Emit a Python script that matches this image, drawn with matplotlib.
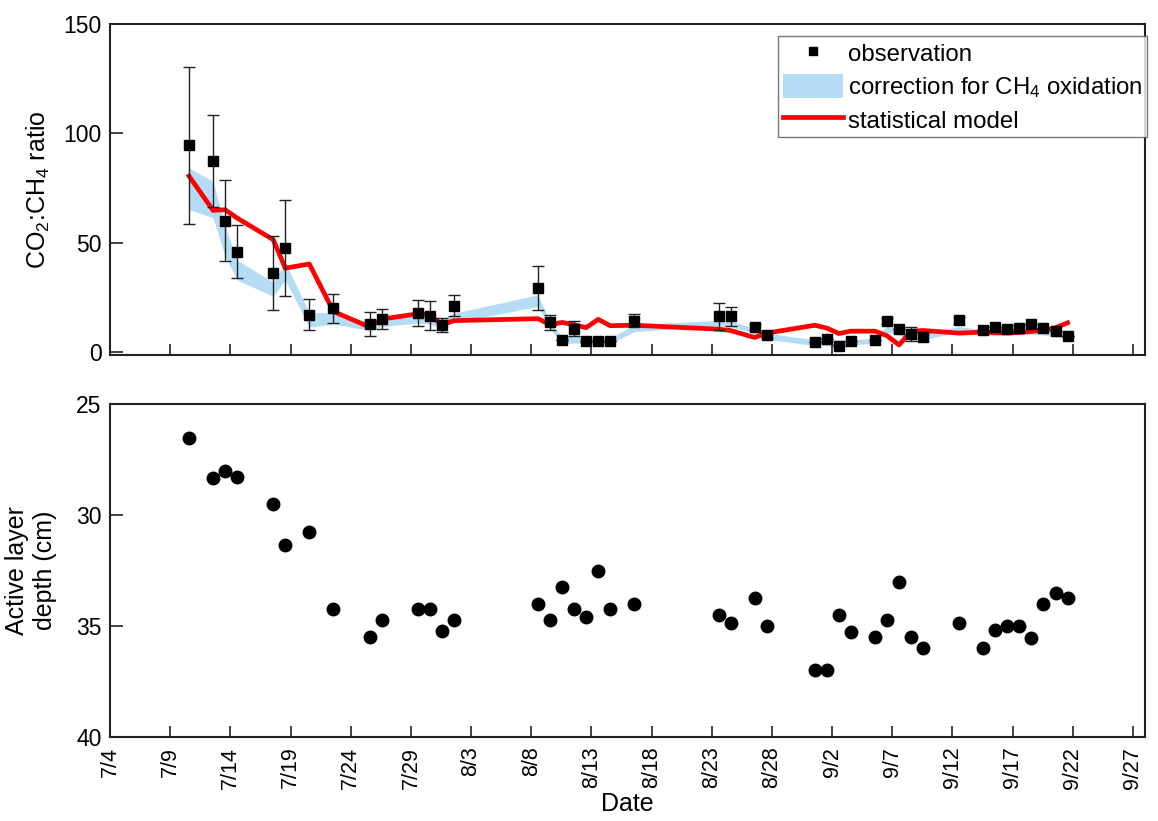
import numpy as np
import pandas as pd
import matplotlib
matplotlib.use('Agg')
import matplotlib.pyplot as plt
from matplotlib.patches import Patch
from matplotlib.lines import Line2D

plt.rcParams['font.family'] = ['Liberation Sans', 'DejaVu Sans']
plt.rcParams['mathtext.fontset'] = 'custom'
plt.rcParams['mathtext.rm'] = 'Liberation Sans'
plt.rcParams['mathtext.it'] = 'Liberation Sans'

##------------data----------------------------------------##
year = 2013
obs_dates = ['7/10', '7/12', '7/13', '7/14', '7/17', '7/18', '7/20', '7/22',
             '7/25', '7/26', '7/29', '7/30', '7/31', '8/1', '8/8', '8/9',
             '8/10', '8/11', '8/12', '8/13', '8/14', '8/16', '8/23', '8/24',
             '8/26', '8/27', '8/31', '9/1', '9/2', '9/3', '9/5', '9/6',
             '9/7', '9/8', '9/9', '9/12', '9/14', '9/15', '9/16', '9/17',
             '9/18', '9/19', '9/20', '9/21']
sample_hour = 13.5  # sampling time of day

ratio_obs = [94.5, 87.2, 60.1, 46.0, 36.1, 47.6, 17.1, 20.0, 12.9, 15.2,
             17.8, 16.7, 12.5, 21.3, 29.3, 13.6, 5.6, 10.7, 5.3, 5.3,
             5.3, 14.3, 16.3, 16.3, 11.4, 7.8, 4.6, 5.9, 3.0, 5.2,
             5.6, 14.3, 10.5, 8.2, 7.1, 14.5, 10.2, 11.3, 10.7, 11.0,
             12.9, 11.0, 9.7, 7.5]
ratio_err = [36.0, 21.0, 18.6, 12.0, 17.0, 22.0, 7.0, 6.5, 5.3, 4.7,
             6.0, 6.8, 3.3, 4.8, 10.0, 3.5, 0.0, 3.4, 0.0, 0.0,
             0.0, 3.0, 6.0, 4.4, 1.5, 1.5, 0.0, 0.0, 0.0, 0.0,
             0.0, 1.5, 0.0, 3.3, 2.0, 1.5, 0.0, 0.0, 0.0, 1.5,
             0.0, 0.0, 0.0, 0.0]
corr_upper = [84.2, 78.0, 57.5, 42.0, 32.0, 41.0, 18.0, 18.1, 13.5, 15.1,
              17.4, 16.8, 14.8, 17.8, 26.2, 13.5, 7.1, 7.5, 6.4, 6.4,
              6.4, 12.5, 14.5, 14.2, 11.0, 8.7, 5.6, 5.6, 5.6, 5.6,
              6.4, 12.0, 10.2, 8.7, 8.5, 11.7, 10.2, 10.2, 10.2, 10.2,
              10.5, 10.2, 8.7, 7.5]
corr_lower = [65.1, 61.5, 43.7, 33.0, 25.5, 33.0, 11.5, 12.8, 10.0, 11.7,
              13.3, 12.8, 11.0, 13.5, 20.9, 10.5, 3.8, 4.2, 3.8, 3.8,
              3.8, 9.4, 12.0, 11.6, 8.7, 5.9, 3.0, 3.0, 2.6, 3.3,
              4.1, 9.0, 7.9, 5.6, 5.5, 9.4, 7.5, 7.9, 7.9, 7.9,
              8.2, 7.9, 6.9, 6.0]
ratio_model = [80.5, 64.8, 65.1, 61.3, 51.4, 38.4, 40.3, 18.6, 11.5, 15.1,
               17.5, 17.1, 12.5, 14.4, 15.3, 12.5, 13.6, 12.5, 11.2, 15.0,
               12.1, 12.3, 10.5, 9.9, 6.7, 8.7, 12.3, 11.0, 8.5, 9.6,
               9.6, 7.5, 3.3, 9.5, 9.9, 8.7, 9.2, 8.8, 8.8, 9.0,
               9.5, 10.0, 11.2, 13.4]
depth = [26.51, 28.35, 28.02, 28.27, 29.49, 31.35, 30.77, 34.25, 35.5, 34.75,
         34.25, 34.25, 35.22, 34.75, 34.0, 34.75, 33.24, 34.25, 34.6, 32.5,
         34.25, 34.0, 34.5, 34.85, 33.75, 35.0, 37.0, 37.0, 34.5, 35.25,
         35.5, 34.75, 33.0, 35.5, 36.0, 34.85, 36.0, 35.18, 35.0, 35.0,
         35.55, 34.0, 33.5, 33.75]

t = pd.to_datetime([f'{year}/{d}' for d in obs_dates]) + pd.Timedelta(hours=sample_hour)
ticks = pd.date_range(f'{year}-07-04', f'{year}-09-27', freq='5D')
tick_labels = [f'{d.month}/{d.day}' for d in ticks]
xlim = (pd.Timestamp(f'{year}-07-04'), pd.Timestamp(f'{year}-09-28'))

##------------figure-----------------##
fig = plt.figure(figsize=(11.58, 8.21), dpi=100)
ax1 = fig.add_axes([0.095, 0.5676, 0.8938, 0.4032])
ax2 = fig.add_axes([0.095, 0.1023, 0.8938, 0.4056])

band_c = '#b5dcf5'
ax1.fill_between(t, corr_lower, corr_upper, color=band_c, lw=0, zorder=1)
ax1.plot(t, ratio_model, color='red', lw=3.4, zorder=2)
ax1.errorbar(t, ratio_obs, yerr=ratio_err, fmt='s', color='k', ms=7.8,
             ecolor='#222222', elinewidth=1, capsize=4.5, capthick=1, zorder=3)
ax1.set_ylim(-1.3, 150)
ax1.set_yticks([0, 50, 100, 150])
ax1.set_ylabel('CO$_2$:CH$_4$ ratio', fontsize=18, labelpad=8)

handles = [Line2D([], [], ls='none', marker='s', color='k', ms=6),
           Patch(facecolor=band_c, edgecolor='none'),
           Line2D([], [], color='red', lw=3.4)]
labels = ['observation', 'correction for CH$_4$ oxidation', 'statistical model']
leg = ax1.legend(handles, labels, loc='upper right', bbox_to_anchor=(1.002, 0.963),
                 fontsize=17.3, frameon=True, fancybox=False, handlelength=2.5,
                 handleheight=1.2, handletextpad=0.2, borderpad=0.2,
                 labelspacing=0.3, borderaxespad=0)
leg.get_frame().set_edgecolor('#555555')
leg.get_frame().set_linewidth(1.0)

ax2.plot(t, depth, 'o', color='k', ms=9)
ax2.set_ylim(40, 25)
ax2.set_yticks([25, 30, 35, 40])
ax2.set_ylabel('Active layer\ndepth (cm)', fontsize=18, labelpad=14)
ax2.set_xlabel('Date', fontsize=18, labelpad=2)

for ax in (ax1, ax2):
    ax.set_xlim(xlim)
    ax.set_xticks(ticks)
    for s in ax.spines.values():
        s.set_linewidth(1.5)
        s.set_color('#222222')
    ax.tick_params(axis='both', direction='in', width=1.2, color='#222222')
    ax.tick_params(axis='x', length=8, labelsize=15.5, pad=7)
    ax.tick_params(axis='y', length=9, pad=6, labelsize=16.5)

ax1.set_xticklabels([])
ax2.set_xticklabels(tick_labels, rotation=90)

plt.savefig('out.png', dpi=100)
